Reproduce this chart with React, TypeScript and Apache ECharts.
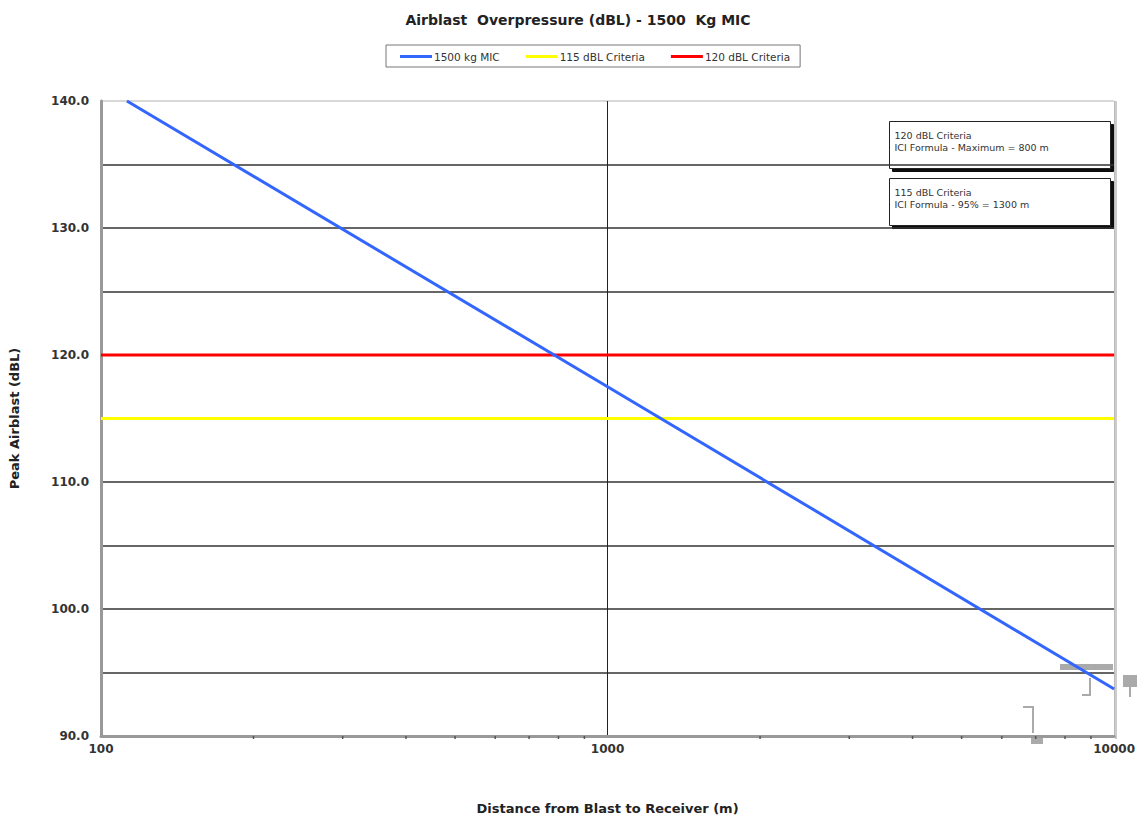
import React, { useEffect, useRef } from "react";
import * as echarts from "echarts";

const titleText = "Airblast  Overpressure (dBL) - 1500  Kg MIC";
const seriesNames = ["1500 kg MIC", "115 dBL Criteria", "120 dBL Criteria"];
const blastDistance = [112.5, 1000, 10000];
const blastLevel = [140, 117.5, 93.7];
const criteriaDistance = [100, 10000];
const criteria115 = [115, 115];
const criteria120 = [120, 120];
const minorTickValues = [200, 300, 400, 500, 600, 700, 800, 900, 2000, 3000, 4000, 5000, 6000, 7000, 8000, 9000];
const notes = [
  ["120 dBL Criteria", "ICI Formula - Maximum = 800 m"],
  ["115 dBL Criteria", "ICI Formula - 95% = 1300 m"],
];

export default function App() {
  const ref = useRef<HTMLDivElement>(null);
  useEffect(() => {
    const chart = echarts.init(ref.current!, null, { renderer: "svg" });
    const font = "'DejaVu Sans', Arial, sans-serif";
    const noteGraphics = notes.map((lines, i) => ({
      type: "group",
      left: 889,
      top: 121 + i * 57,
      children: [
        {
          type: "rect",
          shape: { x: 0, y: 0, width: 221, height: 47 },
          style: { fill: "#fff", stroke: "#222", lineWidth: 1, shadowColor: "#111", shadowOffsetX: 3, shadowOffsetY: 3, shadowBlur: 0 },
        },
        { type: "text", x: 5, y: 9, style: { text: lines[0], font: "9.5px " + font, fill: "#333" } },
        { type: "text", x: 5, y: 21, style: { text: lines[1], font: "9.5px " + font, fill: "#333" } },
      ],
    }));
    const gray = "#aaa";
    const artifacts = [
      { type: "rect", shape: { x: 1060, y: 664, width: 53, height: 6 }, style: { fill: gray } },
      { type: "rect", shape: { x: 1123, y: 675, width: 14, height: 12 }, style: { fill: gray } },
      { type: "line", shape: { x1: 1130, y1: 687, x2: 1130, y2: 697 }, style: { stroke: gray, lineWidth: 2 } },
      { type: "polyline", shape: { points: [[1023, 707], [1033, 707], [1033, 733]] }, style: { stroke: gray, lineWidth: 2, fill: "none" } },
      { type: "polyline", shape: { points: [[1090, 678], [1090, 695], [1082, 695]] }, style: { stroke: gray, lineWidth: 2, fill: "none" } },
      { type: "rect", shape: { x: 1031, y: 735, width: 12, height: 9 }, style: { fill: gray } },
    ];
    chart.setOption({
      animation: false,
      backgroundColor: "#fff",
      title: {
        text: titleText,
        left: 573,
        textAlign: "center",
        top: 8,
        textStyle: { fontSize: 14, fontWeight: "bold", color: "#222", fontFamily: font },
      },
      legend: {
        left: 386,
        top: 45,
        width: 417,
        height: 23,
        padding: [6, 10, 5, 14],
        itemGap: 26,
        itemWidth: 32,
        itemHeight: 3,
        borderColor: "#777",
        borderWidth: 1,
        data: seriesNames.map((n) => ({ name: n, icon: "rect" })),
        textStyle: { fontSize: 10.5, color: "#333", fontFamily: font, padding: [0, 0, 0, -3] },
      },
      grid: { left: 99, right: 22, top: 101, bottom: 81 },
      xAxis: {
        type: "log",
        logBase: 10,
        min: 100,
        max: 10000,
        name: "Distance from Blast to Receiver (m)",
        nameLocation: "middle",
        nameGap: 66,
        nameTextStyle: { fontSize: 13, fontWeight: "bold", color: "#222", fontFamily: font },
        axisLine: { show: true, lineStyle: { color: "#999", width: 3 } },
        axisTick: { show: false },
        axisLabel: { fontSize: 12, fontWeight: "bold", color: "#333", fontFamily: font, margin: 7, formatter: (v: number) => String(Math.round(v)) },
        splitLine: { show: true, lineStyle: { color: ["#bbb", "#222", "#bbb"], width: 1 } },
      },
      yAxis: {
        type: "value",
        min: 90,
        max: 140,
        interval: 5,
        name: "Peak Airblast (dBL)",
        nameLocation: "middle",
        nameGap: 80,
        nameRotate: 90,
        nameTextStyle: { fontSize: 13, fontWeight: "bold", color: "#222", fontFamily: font },
        axisLine: { show: true, lineStyle: { color: "#999", width: 3 } },
        axisTick: { show: false },
        axisLabel: {
          fontSize: 12,
          fontWeight: "bold",
          color: "#333",
          fontFamily: font,
          margin: 12,
          formatter: (v: number) => (v % 10 === 0 ? v.toFixed(1) : ""),
        },
        splitLine: {
          show: true,
          lineStyle: { color: ["#999", "#333", "#333", "#333", "#333", "#333", "#333", "#333", "#333", "#333", "#ccc"], width: 1.5 },
        },
      },
      series: [
        {
          name: seriesNames[0],
          type: "line",
          data: blastDistance.map((d, i) => [d, blastLevel[i]]),
          showSymbol: false,
          lineStyle: { color: "#3366ff", width: 3 },
          itemStyle: { color: "#3366ff" },
          z: 5,
        },
        {
          name: seriesNames[1],
          type: "line",
          data: criteriaDistance.map((d, i) => [d, criteria115[i]]),
          showSymbol: false,
          lineStyle: { color: "#ffff00", width: 3 },
          itemStyle: { color: "#ffff00" },
          z: 4,
        },
        {
          name: seriesNames[2],
          type: "line",
          data: criteriaDistance.map((d, i) => [d, criteria120[i]]),
          showSymbol: false,
          lineStyle: { color: "#ff0000", width: 3 },
          itemStyle: { color: "#ff0000" },
          z: 4,
        },
        {
          type: "custom",
          silent: true,
          clip: false,
          data: minorTickValues.map((v) => [v, 90]),
          renderItem: (params: any, api: any) => {
            const p = api.coord([api.value(0), api.value(1)]);
            return {
              type: "line",
              shape: { x1: p[0], y1: p[1], x2: p[0], y2: p[1] + 3 },
              style: { stroke: "#555", lineWidth: 1.5 },
            };
          },
        },
      ],
      graphic: [
        {
          type: "line",
          shape: { x1: 1116, y1: 101, x2: 1116, y2: 739 },
          style: { stroke: "#bbb", lineWidth: 1.5 },
        },
        ...artifacts,
        ...noteGraphics,
      ],
    });
    return () => chart.dispose();
  }, []);
  return <div ref={ref} style={{ position: "fixed", left: 0, top: 0, width: 1138, height: 820 }} />;
}
